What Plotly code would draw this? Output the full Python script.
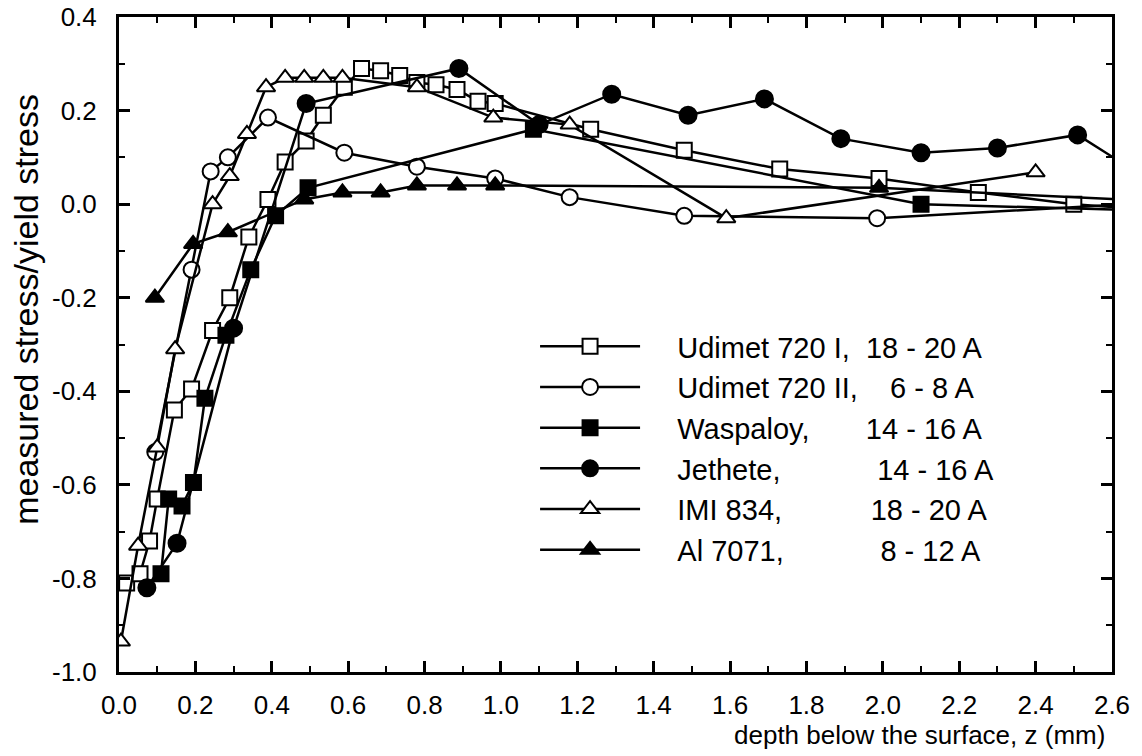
import plotly.graph_objects as go

# ---------------- data ----------------
u1_x = [0.02, 0.055, 0.08, 0.10, 0.145, 0.19, 0.245, 0.29, 0.34, 0.39, 0.435, 0.49, 0.535,
        0.59, 0.635, 0.685, 0.735, 0.78, 0.83, 0.885, 0.94, 0.985, 1.235, 1.48, 1.73, 1.99,
        2.25, 2.5, 2.75]
u1_y = [-0.81, -0.79, -0.72, -0.63, -0.44, -0.395, -0.27, -0.20, -0.07, 0.01, 0.09, 0.135, 0.19,
        0.25, 0.29, 0.285, 0.275, 0.26, 0.255, 0.245, 0.22, 0.215, 0.16, 0.115, 0.075, 0.055,
        0.025, 0.0, -0.015]

u2_x = [0.095, 0.19, 0.24, 0.285, 0.39, 0.59, 0.78, 0.985, 1.18, 1.48, 1.985, 2.75]
u2_y = [-0.53, -0.14, 0.07, 0.10, 0.185, 0.11, 0.08, 0.055, 0.015, -0.025, -0.03, 0.005]

wa_x = [0.11, 0.13, 0.165, 0.195, 0.225, 0.28, 0.345, 0.41, 0.495, 1.085, 2.1, 2.75]
wa_y = [-0.79, -0.63, -0.645, -0.595, -0.415, -0.28, -0.14, -0.025, 0.035, 0.16, 0.0, -0.015]

je_x = [0.073, 0.152, 0.30, 0.49, 0.89, 1.1, 1.29, 1.49, 1.69, 1.89, 2.1, 2.3, 2.51, 2.7]
je_y = [-0.82, -0.725, -0.265, 0.215, 0.29, 0.17, 0.235, 0.19, 0.225, 0.14, 0.11, 0.12, 0.148, 0.05]

imi_x = [0.005, 0.05, 0.10, 0.147, 0.245, 0.29, 0.335, 0.385, 0.435, 0.485, 0.535, 0.585,
         0.78, 0.98, 1.18, 1.59, 2.4]
imi_y = [-0.935, -0.73, -0.52, -0.31, 0.0, 0.06, 0.15, 0.25, 0.27, 0.27, 0.27, 0.27,
         0.25, 0.185, 0.17, -0.03, 0.068]

al_x = [0.094, 0.194, 0.285, 0.485, 0.585, 0.685, 0.78, 0.885, 0.985, 1.99, 2.75]
al_y = [-0.2, -0.085, -0.06, 0.01, 0.025, 0.025, 0.04, 0.04, 0.04, 0.035, 0.005]

materials = ["Udimet 720 I,", "Udimet 720 II,", "Waspaloy,", "Jethete,", "IMI 834,", "Al 7071,"]
currents = ["18 - 20 A", "6 - 8 A", "14 - 16 A", "14 - 16 A", "18 - 20 A", "8 - 12 A"]
column_pad = [2, 4, 7, 12, 11, 12]   # spaces between material and current columns

x_tickvals = [0.0, 0.2, 0.4, 0.6, 0.8, 1.0, 1.2, 1.4, 1.6, 1.8, 2.0, 2.2, 2.4, 2.6]
x_ticktext = ["0.0", "0.2", "0.4", "0.6", "0.8", "1.0", "1.2", "1.4", "1.6", "1.8",
              "2.0", "2.2", "2.4", "2.6"]
y_tickvals = [0.4, 0.2, 0.0, -0.2, -0.4, -0.6, -0.8, -1.0]
y_ticktext = ["0.4", "0.2", "0.0", "-0.2", "-0.4", "-0.6", "-0.8", "-1.0"]

# ---------------- styling ----------------
FONT = "Liberation Sans, Arial, sans-serif"
BLACK = "#000000"
WHITE = "#ffffff"
NB = "\u00a0"

styles = [
    (u1_x, u1_y, "square", WHITE, 15),
    (u2_x, u2_y, "circle", WHITE, 16),
    (wa_x, wa_y, "square", BLACK, 15),
    (je_x, je_y, "circle", BLACK, 17),
    (imi_x, imi_y, "triangle-up", WHITE, 16),
    (al_x, al_y, "triangle-up", BLACK, 16),
]

fig = go.Figure()
for (xs, ys, sym, fill, size), mat, cur, pad in zip(styles, materials, currents, column_pad):
    label = NB * 4 + mat + NB * pad + cur
    fig.add_trace(go.Scatter(
        x=xs, y=ys, mode="lines+markers", name=label,
        line=dict(color=BLACK, width=2.5),
        marker=dict(symbol=sym, size=size, color=fill,
                    line=dict(color=BLACK, width=2)),
    ))

axis_common = dict(
    showline=True, linecolor=BLACK, linewidth=3, mirror="ticks",
    ticks="inside", ticklen=11, tickwidth=2.5, tickcolor=BLACK,
    showgrid=False, zeroline=False, automargin=False,
    ticklabeloverflow="allow",
    tickfont=dict(family=FONT, size=26, color=BLACK),
)

fig.update_xaxes(
    range=[0, 2.6], tickmode="array", tickvals=x_tickvals, ticktext=x_ticktext,
    minor=dict(ticks="inside", ticklen=6, tickwidth=2, tickcolor=BLACK, tick0=0, dtick=0.1),
    ticklabelstandoff=8,
    **axis_common,
)
fig.update_yaxes(
    range=[-1.0, 0.4], tickmode="array", tickvals=y_tickvals, ticktext=y_ticktext,
    minor=dict(ticks="inside", ticklen=6, tickwidth=2, tickcolor=BLACK, tick0=0, dtick=0.1),
    ticklabelstandoff=14,
    **axis_common,
)

fig.add_annotation(
    text="depth below the surface, z (mm)", xref="paper", yref="paper",
    x=1, y=0, xanchor="right", yanchor="top", xshift=-5, yshift=-46,
    showarrow=False, font=dict(family=FONT, size=26, color=BLACK),
)
fig.add_annotation(
    text="measured stress/yield stress", xref="paper", yref="paper",
    x=0, y=0.553, xanchor="center", yanchor="middle", xshift=-93, textangle=-90,
    showarrow=False, font=dict(family=FONT, size=34, color=BLACK),
)

fig.update_layout(
    width=1142, height=756,
    margin=dict(l=119, r=30, t=17, b=84),
    paper_bgcolor=WHITE, plot_bgcolor=WHITE,
    showlegend=True,
    legend=dict(x=0.419, y=0.536, xanchor="left", yanchor="top",
                bgcolor="rgba(0,0,0,0)", borderwidth=0,
                font=dict(family=FONT, size=29, color=BLACK),
                itemwidth=100),
)

# remove the browser's default 8px page margin so the figure fills the window exactly
fig.write_html(
    "out.html",
    config={"displayModeBar": False},
    post_script="document.body.style.margin='0';document.body.style.overflow='hidden';",
)
